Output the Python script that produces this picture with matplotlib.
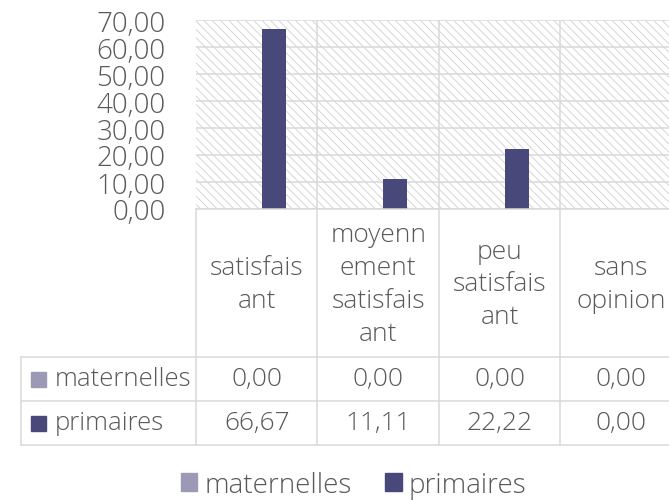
import matplotlib
matplotlib.use("Agg")
import matplotlib.pyplot as plt
import matplotlib.transforms as mtransforms
from matplotlib.patches import Rectangle
from matplotlib.lines import Line2D

categories = ["satisfais\nant", "moyenn\nement\nsatisfais\nant", "peu\nsatisfais\nant", "sans\nopinion"]
series_names = ["maternelles", "primaires"]
maternelles = [0.00, 0.00, 0.00, 0.00]
primaires = [66.67, 11.11, 22.22, 0.00]
yticks = [0, 10, 20, 30, 40, 50, 60, 70]

colors = ["#9b99b5", "#48487a"]
grid_c = "#d9d9d9"
text_c = "#595959"
FONT = "Open Sans"
FS = 19
FS_TICK = 20
FS_LEG = 20
WEIGHT = "light"

W, H = 669, 502
fig = plt.figure(figsize=(W / 100, H / 100), dpi=100)
plt.rcParams["font.family"] = [FONT, "DejaVu Sans"]
plt.rcParams["font.weight"] = WEIGHT
plt.rcParams["hatch.linewidth"] = 0.6

# pixel transform (x from left, y from top)
px = mtransforms.Affine2D().scale(1 / W, -1 / H).translate(0, 1) + fig.transFigure

left, right, top, bottom = 196, 682, 21, 210
ax = fig.add_axes([left / W, 1 - bottom / H, (right - left) / W, (bottom - top) / H])
ax.set_xlim(-0.5, len(categories) - 0.5)
ax.set_ylim(0, 70)

# hatched background
ax.add_patch(Rectangle((0, 0), 1, 1, transform=ax.transAxes, facecolor="white",
                       edgecolor="#cfcfcf", lw=0, hatch="\\\\\\\\", zorder=0))

bw = 0.2
off = 0.14
xs = list(range(len(categories)))
ax.bar([x - off for x in xs], maternelles, width=bw, color=colors[0], zorder=3, label=series_names[0])
ax.bar([x + off for x in xs], primaires, width=bw, color=colors[1], zorder=3, label=series_names[1])

ax.set_yticks(yticks)
ax.set_yticklabels([f"{v:.2f}".replace(".", ",") for v in yticks], fontweight=WEIGHT)
ax.tick_params(axis="y", length=0, pad=22, labelsize=FS_TICK, labelcolor=text_c)
ax.tick_params(axis="x", length=0, labelbottom=False)
ax.yaxis.grid(True, color=grid_c, lw=1.1, zorder=1)
for s in ax.spines.values():
    s.set_visible(False)
for b in range(1, len(categories)):
    ax.axvline(b - 0.5, color=grid_c, lw=1.1, zorder=1)

# data table
blend = mtransforms.blended_transform_factory(ax.transData, px)
row_lines = [358, 402, 446]
lw = 1.1
for b in range(0, len(categories) + 1):
    fig.add_artist(Line2D([b - 0.5, b - 0.5], [bottom, 446], transform=blend, color=grid_c, lw=lw))
fig.add_artist(Line2D([21, 21], [358, 446], transform=px, color=grid_c, lw=lw))
for y in row_lines:
    fig.add_artist(Line2D([21, W], [y, y], transform=px, color=grid_c, lw=lw))
fig.add_artist(Line2D([left, W], [bottom, bottom], transform=px, color=grid_c, lw=lw))

for i, c in enumerate(categories):
    fig.text(i, 285, c, transform=blend, ha="center", va="center", fontsize=FS,
             color=text_c, linespacing=1.42, fontweight=WEIGHT)

rows = [maternelles, primaires]
row_centers = [380, 424]
for r, (vals, yc) in enumerate(zip(rows, row_centers)):
    for i, v in enumerate(vals):
        fig.text(i, yc, f"{v:.2f}".replace(".", ","), transform=blend, ha="center", va="center",
                 fontsize=FS, color=text_c, fontweight=WEIGHT)
    fig.add_artist(Rectangle((31, yc + 7.5), 15, -15, transform=px, color=colors[r]))
    fig.text(55, yc, series_names[r], transform=px, ha="left", va="center", fontsize=FS - 0.5,
             color=text_c, fontweight=WEIGHT)

# legend
handles = [Rectangle((0, 0), 1, 1, color=c) for c in colors]
leg = fig.legend(handles, series_names, loc="center", bbox_to_anchor=(353.5 / W, 1 - 486 / H),
                 ncol=2, frameon=False, prop={"size": FS_LEG, "weight": WEIGHT},
                 handlelength=0.6, handleheight=0.6,
                 handletextpad=0.25, columnspacing=1.2, borderpad=0, borderaxespad=0)
for t in leg.get_texts():
    t.set_color(text_c)

fig.savefig("out.png", dpi=100)
